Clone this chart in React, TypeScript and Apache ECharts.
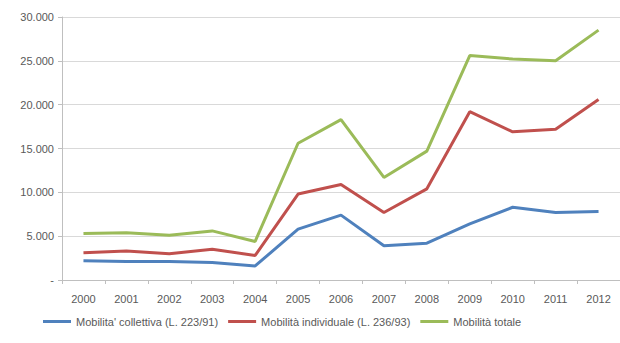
import React, { useEffect, useRef } from "react";
import * as echarts from "echarts";

const years = ["2000", "2001", "2002", "2003", "2004", "2005", "2006", "2007", "2008", "2009", "2010", "2011", "2012"];
const collettiva = [2200, 2100, 2100, 2000, 1600, 5800, 7400, 3900, 4200, 6400, 8300, 7700, 7800];
const individuale = [3100, 3300, 3000, 3500, 2800, 9800, 10900, 7700, 10400, 19200, 16900, 17200, 20600];
const totale = [5300, 5400, 5100, 5600, 4400, 15600, 18300, 11700, 14700, 25600, 25200, 25000, 28500];
const seriesNames = ["Mobilita' collettiva (L. 223/91)", "Mobilità individuale (L. 236/93)", "Mobilità totale"];
const colors = ["#4F81BD", "#C0504D", "#9BBB59"];

const fmt = (v: number) => (v === 0 ? "-" : v.toLocaleString("de-DE"));

export default function App() {
  const ref = useRef<HTMLDivElement>(null);
  useEffect(() => {
    if (!ref.current) return;
    const chart = echarts.init(ref.current, undefined, { renderer: "svg" });
    const font = "'Liberation Sans', Arial, sans-serif";
    const data = [collettiva, individuale, totale];
    chart.setOption({
      animation: false,
      backgroundColor: "#ffffff",
      textStyle: { fontFamily: font },
      grid: { left: 62, right: 0, top: 17, bottom: 63, containLabel: false },
      legend: {
        bottom: 11,
        left: 38,
        itemWidth: 28,
        itemHeight: 3,
        itemGap: 10,
        icon: "rect",
        textStyle: { fontSize: 11, color: "#595959", fontFamily: font },
        data: seriesNames,
      },
      xAxis: {
        type: "category",
        data: years,
        boundaryGap: true,
        axisLine: { lineStyle: { color: "#BFBFBF" } },
        axisTick: { show: true, length: 4, lineStyle: { color: "#BFBFBF" } },
        axisLabel: { fontSize: 11, color: "#595959", margin: 13 },
      },
      yAxis: {
        type: "value",
        min: 0,
        max: 30000,
        interval: 5000,
        axisLine: { show: true, lineStyle: { color: "#BFBFBF" } },
        axisTick: { show: true, length: 4, lineStyle: { color: "#BFBFBF" } },
        splitLine: { lineStyle: { color: "#D9D9D9" } },
        axisLabel: { fontSize: 11, color: "#595959", margin: 8, formatter: fmt },
      },
      series: data.map((d, i) => ({
        name: seriesNames[i],
        type: "line",
        data: d,
        symbol: "none",
        color: colors[i],
        lineStyle: { width: 3, color: colors[i] },
      })),
    });
    return () => chart.dispose();
  }, []);
  return <div ref={ref} style={{ position: "fixed", left: 0, top: 0, width: 620, height: 343 }} />;
}
